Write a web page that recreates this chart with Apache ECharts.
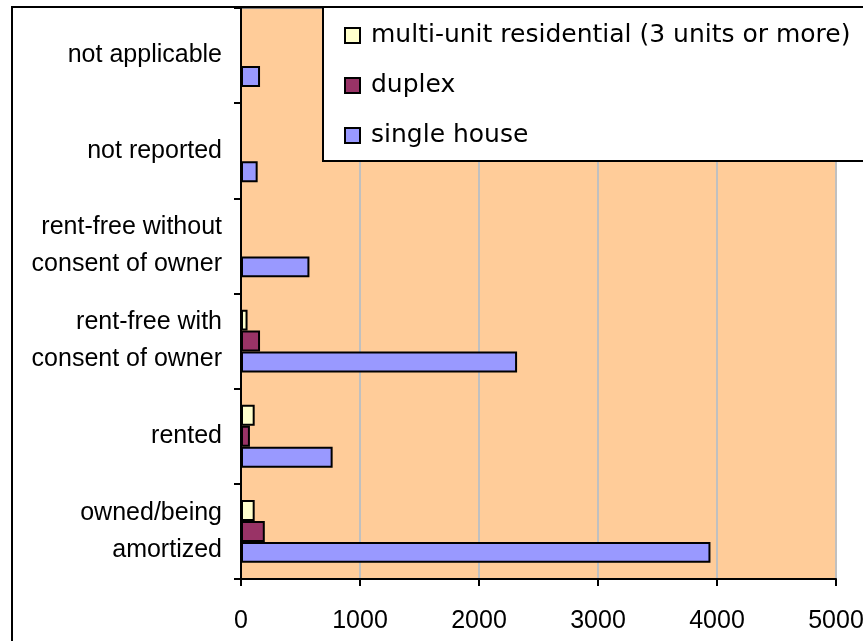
<!DOCTYPE html>
<html>
<head>
<meta charset="utf-8">
<script src="https://cdn.jsdelivr.net/npm/echarts@6/dist/echarts.min.js"></script>
<style>
html,body{margin:0;padding:0;background:#fff;}
#chart{width:863px;height:641px;}
</style>
</head>
<body>
<div id="chart"></div>
<script>
const categories = ['owned/being\namortized', 'rented', 'rent-free with\nconsent of owner', 'rent-free without\nconsent of owner', 'not reported', 'not applicable'];
const seriesNames = ['multi-unit residential (3 units or more)', 'duplex', 'single house'];
const multiUnit = [115, 115, 55, null, null, null];
const duplex = [200, 75, 160, null, null, null];
const singleHouse = [3945, 770, 2320, 575, 140, 160];
const xTicks = [0, 1000, 2000, 3000, 4000, 5000];

const colors = ['#FFFFCC', '#993366', '#9999FF'];
const values = [multiUnit, duplex, singleHouse];

const chart = echarts.init(document.getElementById('chart'));
chart.setOption({
  animation: false,
  backgroundColor: '#fff',
  grid: {
    left: 241, right: 27, top: 8, bottom: 62,
    outerBoundsMode: 'none',
    containLabel: false,
    show: true, backgroundColor: '#FFCC99', borderColor: '#808080', borderWidth: 2
  },
  xAxis: {
    type: 'value',
    min: xTicks[0], max: xTicks[xTicks.length - 1], interval: 1000,
    axisLine: { show: true, lineStyle: { color: '#000', width: 2 } },
    axisTick: { show: true, inside: false, length: 7, lineStyle: { color: '#000', width: 2 } },
    axisLabel: { color: '#000', fontFamily: 'Liberation Sans', fontSize: 25, margin: 30,
      formatter: v => String(v) },
    splitLine: { show: true, lineStyle: { color: '#C0C0C0', width: 2 } }
  },
  yAxis: {
    type: 'category',
    data: categories,
    axisLine: { show: true, lineStyle: { color: '#000', width: 2 } },
    axisTick: { show: true, inside: false, length: 7, lineStyle: { color: '#000', width: 2 } },
    axisLabel: { color: '#000', fontFamily: 'Liberation Sans', fontSize: 25, lineHeight: 37, margin: 19, align: 'right' },
    splitLine: { show: false }
  },
  legend: {
    orient: 'vertical',
    left: 344, top: 23,
    padding: 0,
    itemWidth: 15, itemHeight: 15, itemGap: 25,
    icon: 'rect',
    z: 60,
    data: seriesNames.slice(),
    itemStyle: { borderColor: '#000', borderWidth: 2 },
    textStyle: { color: '#000', fontFamily: 'DejaVu Sans', fontSize: 25, lineHeight: 25, padding: [0, 0, 0, 6] }
  },
  graphic: [
    { type: 'rect', z: 50, shape: { x: 323, y: 7, width: 700, height: 154 },
      style: { fill: '#fff', stroke: '#000', lineWidth: 2 } },
    { type: 'rect', z: 100, shape: { x: 12, y: 7, width: 1000, height: 1000 },
      style: { fill: null, stroke: '#000', lineWidth: 2 } }
  ],
  series: values.map((v, i) => ({
    name: seriesNames[i],
    type: 'bar',
    data: v,
    barGap: '0%',
    barCategoryGap: '34%',
    itemStyle: { color: colors[i], borderColor: '#000', borderWidth: 2 }
  }))
});
</script>
</body>
</html>
